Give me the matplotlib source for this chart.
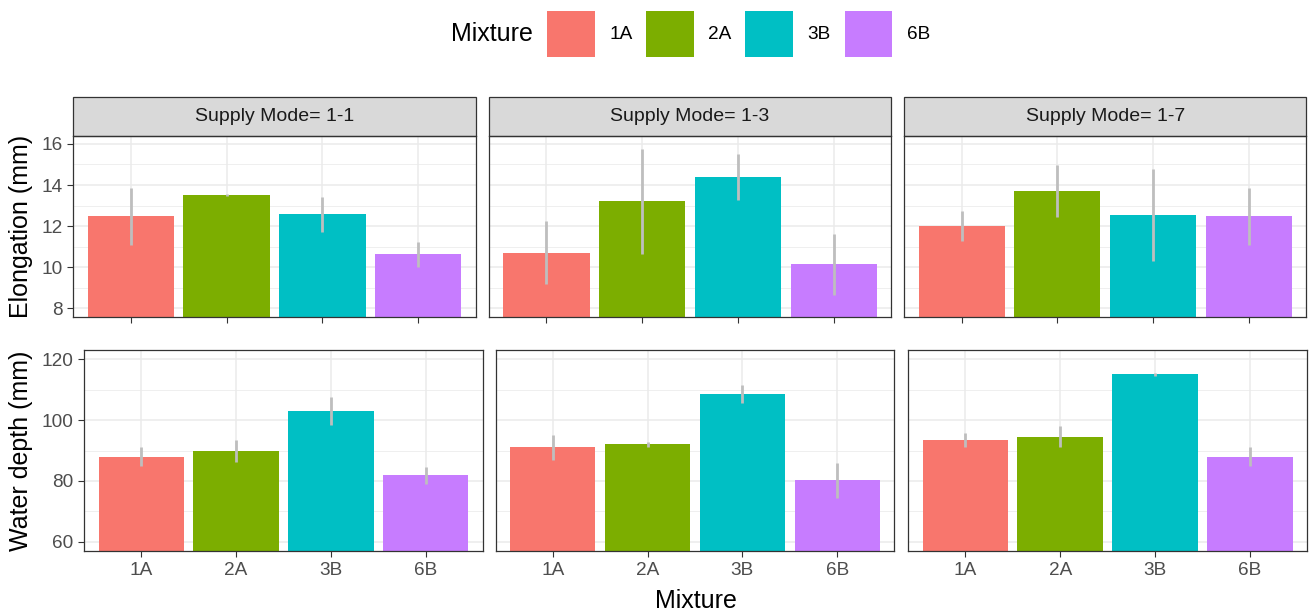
import matplotlib
matplotlib.use("Agg")
import matplotlib.pyplot as plt
from matplotlib.patches import Patch, Rectangle
from matplotlib.ticker import MultipleLocator

plt.rcParams['font.family'] = ['Liberation Sans', 'DejaVu Sans']

# data
mixtures = ['1A', '2A', '3B', '6B']
modes = ['1-1', '1-3', '1-7']
colors = ['#F8766D', '#7CAE00', '#00BFC4', '#C77CFF']

elong_mean = [[12.48, 13.52, 12.57, 10.64],
              [10.70, 13.22, 14.38, 10.14],
              [12.02, 13.72, 12.56, 12.48]]
elong_sd = [[1.37, 0.06, 0.87, 0.60],
            [1.53, 2.55, 1.13, 1.50],
            [0.73, 1.25, 2.23, 1.37]]

depth_mean = [[88.0, 89.8, 103.0, 81.9],
              [91.0, 92.0, 108.5, 80.2],
              [93.5, 94.5, 115.0, 88.0]]
depth_sd = [[3.25, 3.5, 4.5, 2.8],
            [4.1, 0.9, 3.0, 5.8],
            [2.2, 3.5, 0.4, 3.25]]

W, H = 1309, 612
fig = plt.figure(figsize=(W / 100, H / 100), dpi=100)

# panel boxes in pixels (left, right) and (top, bottom)
top_boxes = [(73.3, 475.7), (489, 891), (904.3, 1306)]
bot_boxes = [(84.3, 482.7), (495.7, 894.3), (908.3, 1307)]
top_y = (135.7, 316.7)
bot_y = (350, 551)


def make_ax(xl, xr, yt, yb):
    return fig.add_axes([xl / W, 1 - yb / H, (xr - xl) / W, (yb - yt) / H])


def style(ax, first, show_xlabels):
    ax.set_axisbelow(True)
    ax.set_xlim(0.4, 4.6)
    ax.set_xticks(range(1, 5))
    ax.set_xticklabels(mixtures if show_xlabels else [])
    ax.grid(True, which='major', color='#EBEBEB', lw=1.1)
    ax.grid(True, which='minor', axis='y', color='#EBEBEB', lw=0.55)
    ax.tick_params(which='major', direction='out', length=4.3, width=0.8,
                   color='#333333', labelcolor='#4D4D4D', labelsize=13.7, pad=3.4)
    ax.tick_params(which='minor', length=0)
    if not first:
        ax.tick_params(axis='y', which='major', length=0, labelleft=False)
    for s in ax.spines.values():
        s.set_color('#333333')
        s.set_linewidth(0.9)


x = list(range(1, 5))
for i, mode in enumerate(modes):
    # elongation row
    ax = make_ax(top_boxes[i][0], top_boxes[i][1], *top_y)
    ax.bar(x, elong_mean[i], width=0.9, color=colors, zorder=2)
    ax.errorbar(x, elong_mean[i], yerr=elong_sd[i], fmt='none',
                ecolor='#BEBEBE', elinewidth=2, capsize=0, zorder=3)
    ax.set_ylim(7.6, 16.4)
    ax.yaxis.set_major_locator(MultipleLocator(2))
    ax.yaxis.set_minor_locator(MultipleLocator(1))
    style(ax, i == 0, False)
    sh = 38.3 / (top_y[1] - top_y[0])
    ax.add_patch(Rectangle((0, 1), 1, sh, transform=ax.transAxes, clip_on=False,
                           facecolor='#D9D9D9', edgecolor='#333333', lw=0.9))
    ax.text(0.5, 1 + sh / 2, 'Supply Mode= ' + mode, transform=ax.transAxes,
            ha='center', va='center', fontsize=14, color='#1A1A1A')

    # water depth row
    ax2 = make_ax(bot_boxes[i][0], bot_boxes[i][1], *bot_y)
    ax2.bar(x, depth_mean[i], width=0.9, color=colors, zorder=2)
    ax2.errorbar(x, depth_mean[i], yerr=depth_sd[i], fmt='none',
                 ecolor='#BEBEBE', elinewidth=2, capsize=0, zorder=3)
    ax2.set_ylim(57, 123)
    ax2.yaxis.set_major_locator(MultipleLocator(20))
    ax2.yaxis.set_minor_locator(MultipleLocator(10))
    style(ax2, i == 0, True)

fig.text(21 / W, 1 - 226.2 / H, 'Elongation (mm)', rotation=90,
         ha='center', va='center', fontsize=18)
fig.text(21 / W, 1 - 450.5 / H, 'Water depth (mm)', rotation=90,
         ha='center', va='center', fontsize=18)
fig.text(695.7 / W, 1 - 608 / H, 'Mixture', ha='center', va='baseline', fontsize=18)

# legend
fig.text(492 / W, 1 - 34 / H, 'Mixture', ha='center', va='center', fontsize=18)
handles = [Patch(facecolor=c, edgecolor='none') for c in colors]
fig.legend(handles, mixtures, loc='center left', bbox_to_anchor=(547 / W, 1 - 34 / H),
           ncol=4, frameon=False, fontsize=13.7, handlelength=2.52, handleheight=3.36,
           handletextpad=0.75, columnspacing=0.72, borderpad=0, borderaxespad=0)

fig.savefig('out.png', dpi=100)
